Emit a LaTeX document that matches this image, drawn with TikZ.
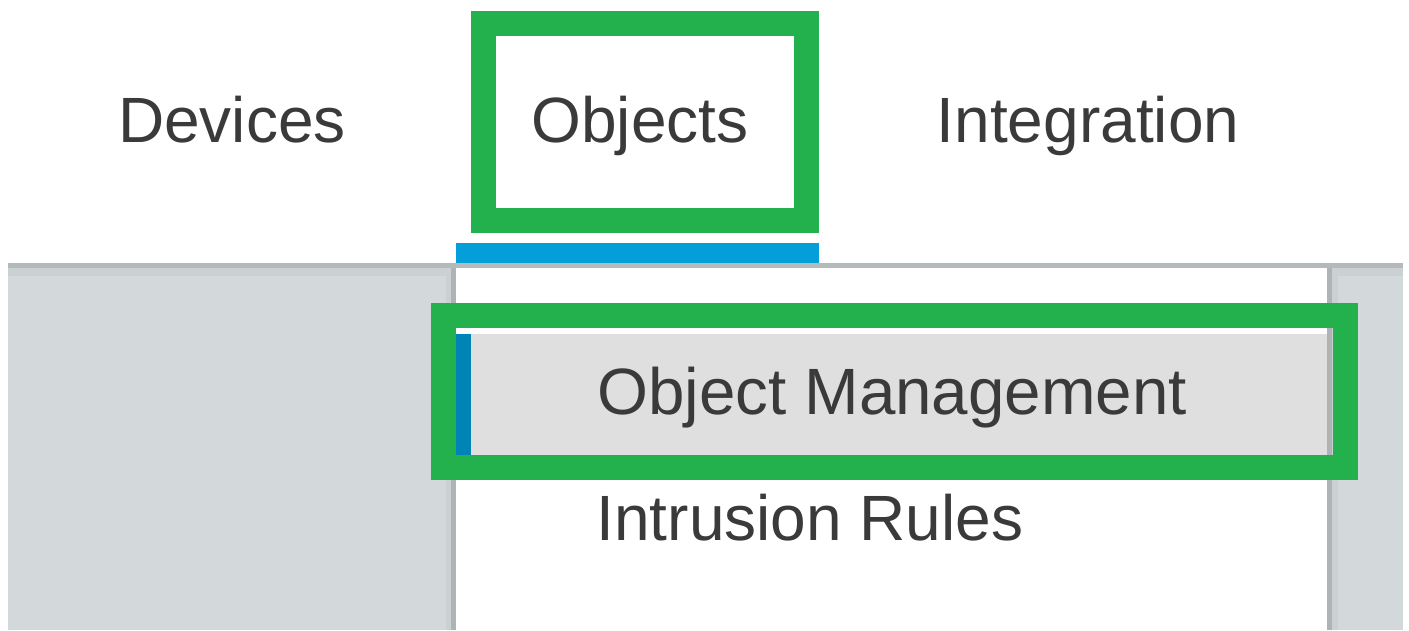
\documentclass[tikz,border=0pt]{standalone}
\usepackage{fontspec}
\setmainfont{Liberation Sans}
\definecolor{panel}{HTML}{D3D8DB}
\definecolor{panelline}{HTML}{B4BABC}
\definecolor{panelshade}{HTML}{AEB3B3}
\definecolor{panelshade2}{HTML}{CBD0D3}
\definecolor{tabblue}{HTML}{049FD9}
\definecolor{selblue}{HTML}{0083B5}
\definecolor{selgray}{HTML}{DFDFDF}
\definecolor{hlgreen}{HTML}{23B14D}
\definecolor{txt}{HTML}{3A3A3A}
\begin{document}
\begin{tikzpicture}[x=1pt,y=-1pt,
  menutext/.style={font=\fontsize{64}{70}\selectfont, text=txt, inner sep=0pt, anchor=base},
  hlbox/.style={draw=hlgreen, line width=25pt}]
\useasboundingbox (0,0) rectangle (1409,630);
\fill[white] (0,0) rectangle (1409,630);
% gray background panels
\fill[panel] (8,263) rectangle (1403,630);
\fill[panelshade2] (8,268) rectangle (1403,276);
\fill[panelline] (8,263) rectangle (1403,268);
\fill[panelshade2] (446,268) rectangle (451,630);
\fill[panelshade] (451,268) rectangle (456,630);
\fill[panelshade] (1327,268) rectangle (1332,630);
\fill[panelshade2] (1332,268) rectangle (1338,630);
% dropdown
\fill[white] (456,268) rectangle (1327,630);
% tab underline
\fill[tabblue] (456,243) rectangle (819,263);
% selected item
\fill[selgray] (471,334) rectangle (1327,455);
\fill[selblue] (456,334) rectangle (471,455);
% texts
\node[menutext] (devices) at (232,142) {Devices};
\node[menutext] (objects) at (640,142) {Objects};
\node[menutext] (integration) at (1088,142) {Integration};
\node[menutext, font=\fontsize{65.5}{70}\selectfont] (objmgmt) at (892,414) {Object Management};
\node[menutext] (intrusion) at (810,540) {Intrusion Rules};
% highlight boxes
\draw[hlbox] (483.5,23.5) rectangle (806.5,220.5);
\draw[hlbox] (443.5,315.5) rectangle (1345.5,467.5);
\end{tikzpicture}
\end{document}
